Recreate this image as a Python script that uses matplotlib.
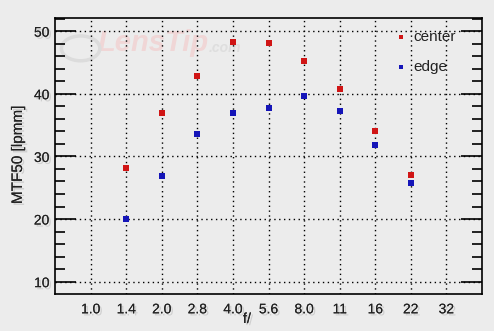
import matplotlib
matplotlib.use("Agg")
import matplotlib.pyplot as plt
import matplotlib.patheffects as pe
from matplotlib.ticker import MultipleLocator

apertures = ["1.0", "1.4", "2.0", "2.8", "4.0", "5.6", "8.0", "11", "16", "22", "32"]
center_ap = ["1.4", "2.0", "2.8", "4.0", "5.6", "8.0", "11", "16", "22"]
center = [28.2, 36.9, 42.8, 48.2, 48.1, 45.2, 40.7, 34.0, 27.0]
edge = [20.0, 26.8, 33.5, 37.0, 37.8, 39.6, 37.2, 31.9, 25.8]

bg = "#ececec"
plt.rcParams['font.family'] = ['Liberation Sans', 'DejaVu Sans']

fig = plt.figure(figsize=(4.94, 3.31), dpi=100, facecolor=bg)
W, H = 494, 331
ax = fig.add_axes([55 / W, 1 - 294 / H, (482 - 55) / W, (294 - 18) / H])
ax.set_facecolor(bg)

xpos = {a: i for i, a in enumerate(apertures)}
cx = [xpos[a] for a in center_ap]

shadow = [pe.withSimplePatchShadow(offset=(1.5, -1.5), shadow_rgbFace="#999999", alpha=0.35), pe.Normal()]

# watermark
ax.text(0.10, 0.91, "LensTip", transform=ax.transAxes, fontsize=21, fontweight="bold",
        fontstyle="italic", color="#f0d6d6", ha="left", va="center", zorder=0)
ax.text(0.36, 0.89, ".com", transform=ax.transAxes, fontsize=10, fontweight="bold",
        fontstyle="italic", color="#dedede", ha="left", va="center", zorder=0)
circ = plt.Circle((0.06, 0.89), 0.045, transform=ax.transAxes, fill=False,
                  ec="#dcdcdc", lw=2.5, zorder=0)
ax.add_patch(circ)

ax.scatter(cx, center, marker="s", s=22, color="#d01515", lw=0, zorder=3, label="center")
ax.scatter(cx, edge, marker="s", s=22, color="#1515b8", lw=0, zorder=3, label="edge")

ax.set_xlim(-1, 11)
ax.set_ylim(8.03, 52.1)
ax.set_xticks(range(len(apertures)))
ax.set_xticklabels(apertures)
ax.yaxis.set_major_locator(MultipleLocator(10))
ax.yaxis.set_minor_locator(MultipleLocator(2))
ax.set_yticks([10, 20, 30, 40, 50])

ax.grid(True, which="major", color="black", linestyle=(0, (1, 2.5)), lw=1.0)
ax.tick_params(axis="x", length=0, pad=6, labelsize=10, colors="#222222")
ax.tick_params(axis="y", which="major", direction="in", length=15, width=1.2,
               left=True, right=True, labelsize=10, pad=4, colors="black")
ax.tick_params(axis="y", which="minor", direction="in", length=7.5, width=1.2,
               left=True, right=True)
for lab in ax.get_xticklabels() + ax.get_yticklabels():
    lab.set_color("#222222")
    lab.set_path_effects(shadow)
for s in ax.spines.values():
    s.set_linewidth(1.2)

xl = fig.text(247 / W, 1 - 319 / H, "f/", fontsize=10.5, color="#222222", ha="center", va="center")
yl = fig.text(18 / W, 1 - 155 / H, "MTF50 [lpmm]", fontsize=11, color="#222222",
              ha="center", va="center", rotation=90)
xl.set_path_effects(shadow)
yl.set_path_effects(shadow)

leg = ax.legend(loc="upper left", bbox_to_anchor=(393 / W, 1 - 30 / H), bbox_transform=fig.transFigure,
                frameon=False, fontsize=11, markerscale=0.7, handletextpad=0.35, labelspacing=1.05,
                handlelength=1.0, borderaxespad=0, borderpad=0)
for t in leg.get_texts():
    t.set_color("#222222")

fig.savefig("out.png", dpi=100, facecolor=bg)
